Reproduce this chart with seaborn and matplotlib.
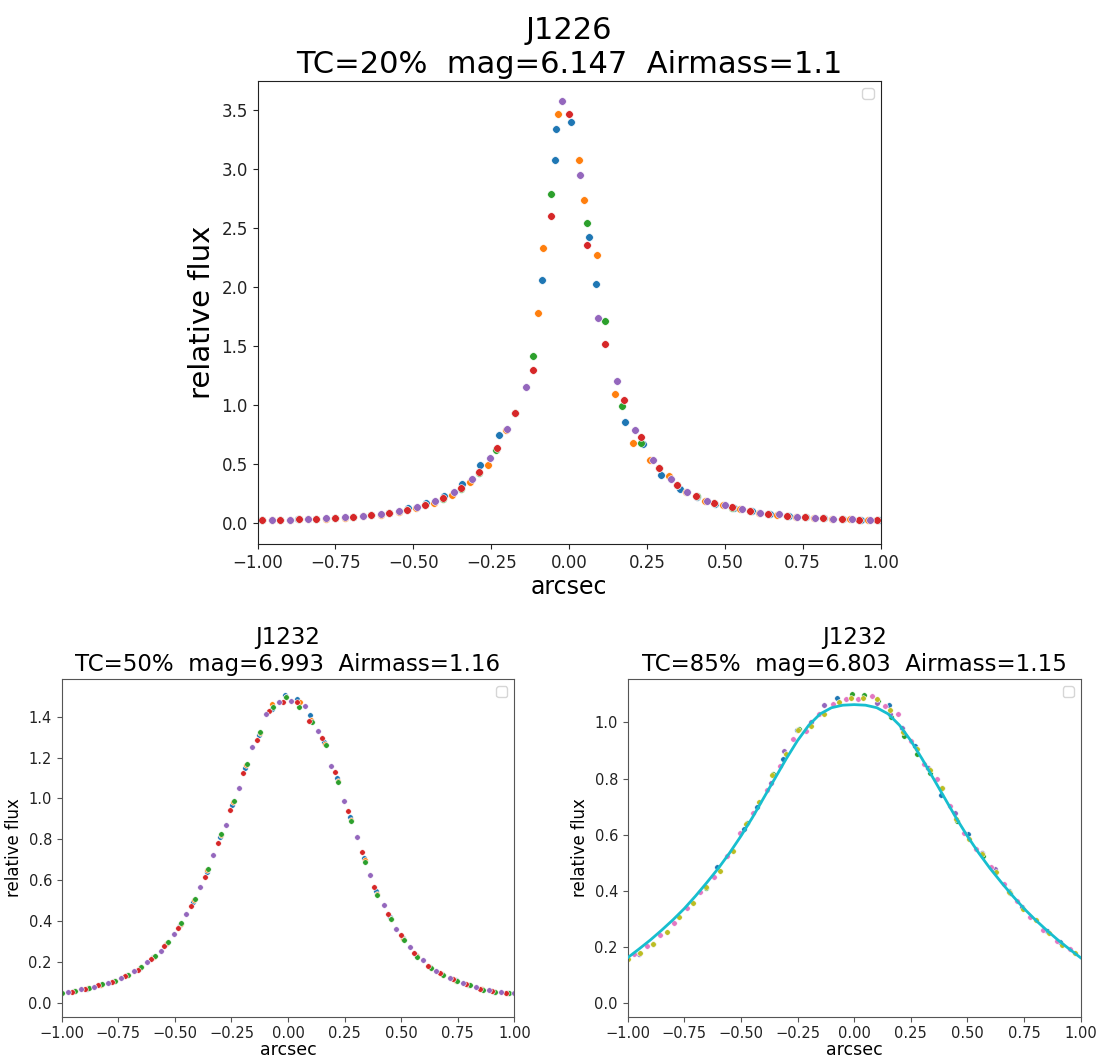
import matplotlib
matplotlib.use("Agg")
import matplotlib.pyplot as plt
from matplotlib.ticker import MultipleLocator
import seaborn as sns

# ---------------- top panel: J1226, TC=20% ----------------
top_blue_x = [-0.986, -0.927, -0.869, -0.811, -0.752, -0.695, -0.637, -0.579, -0.517, -0.46, -0.40, -0.342,
              -0.285, -0.226, -0.087, -0.044, -0.042, 0.006, 0.064, 0.087, 0.181, 0.239, 0.296, 0.355,
              0.41, 0.47, 0.53, 0.588, 0.646, 0.705, 0.762, 0.82, 0.88, 0.937, 0.994]
top_blue_y = [0.022, 0.024, 0.03, 0.036, 0.04, 0.05, 0.066, 0.085, 0.125, 0.167, 0.23, 0.33,
              0.49, 0.75, 2.06, 3.08, 3.34, 3.40, 2.42, 2.03, 0.86, 0.67, 0.41, 0.29,
              0.22, 0.165, 0.13, 0.098, 0.077, 0.06, 0.047, 0.04, 0.03, 0.025, 0.024]
top_orange_x = [-0.954, -0.897, -0.838, -0.779, -0.72, -0.661, -0.605, -0.547, -0.49, -0.433, -0.376, -0.318,
                -0.26, -0.203, -0.10, -0.085, -0.036, 0.031, 0.049, 0.089, 0.147, 0.205, 0.26, 0.32,
                0.375, 0.437, 0.495, 0.55, 0.61, 0.668, 0.727, 0.786, 0.843, 0.902, 0.96]
top_orange_y = [0.022, 0.027, 0.03, 0.038, 0.046, 0.058, 0.072, 0.093, 0.13, 0.17, 0.237, 0.35,
                0.49, 0.79, 1.78, 2.33, 3.47, 3.08, 2.74, 2.27, 1.09, 0.68, 0.53, 0.40,
                0.265, 0.19, 0.15, 0.117, 0.088, 0.072, 0.054, 0.045, 0.037, 0.03, 0.025]
top_green_x = [-0.986, -0.927, -0.868, -0.811, -0.752, -0.695, -0.637, -0.579, -0.521, -0.463, -0.406, -0.348,
               -0.29, -0.234, -0.174, -0.116, -0.059, 0.057, 0.115, 0.171, 0.232, 0.289, 0.348, 0.41,
               0.466, 0.524, 0.582, 0.64, 0.70, 0.757, 0.816, 0.875, 0.932, 0.989]
top_green_y = [0.022, 0.025, 0.03, 0.036, 0.041, 0.051, 0.066, 0.085, 0.108, 0.15, 0.205, 0.285,
               0.42, 0.62, 0.93, 1.415, 2.79, 2.54, 1.71, 0.99, 0.68, 0.465, 0.32, 0.225,
               0.168, 0.13, 0.098, 0.077, 0.06, 0.047, 0.04, 0.03, 0.025, 0.024]
top_red_x = [-0.986, -0.927, -0.868, -0.811, -0.752, -0.695, -0.637, -0.579, -0.521, -0.463, -0.406, -0.348,
             -0.29, -0.232, -0.174, -0.115, -0.058, 0.0, 0.059, 0.117, 0.175, 0.232, 0.289, 0.348,
             0.406, 0.466, 0.524, 0.582, 0.64, 0.70, 0.757, 0.816, 0.875, 0.932, 0.989]
top_red_y = [0.023, 0.025, 0.031, 0.037, 0.040, 0.050, 0.068, 0.087, 0.11, 0.153, 0.212, 0.297,
             0.43, 0.64, 0.93, 1.30, 2.60, 3.47, 2.36, 1.52, 1.04, 0.73, 0.47, 0.325,
             0.226, 0.17, 0.135, 0.10, 0.079, 0.062, 0.048, 0.042, 0.031, 0.025, 0.025]
top_purple_x = [-0.954, -0.897, -0.838, -0.779, -0.72, -0.661, -0.605, -0.547, -0.488, -0.429, -0.37, -0.312,
                -0.254, -0.198, -0.139, -0.022, 0.036, 0.093, 0.153, 0.211, 0.269, 0.327, 0.38, 0.443,
                0.5, 0.555, 0.614, 0.673, 0.732, 0.791, 0.848, 0.907, 0.965]
top_purple_y = [0.023, 0.028, 0.031, 0.04, 0.048, 0.062, 0.076, 0.099, 0.136, 0.186, 0.265, 0.375,
                0.55, 0.80, 1.155, 3.58, 2.95, 1.74, 1.20, 0.79, 0.53, 0.37, 0.26, 0.19,
                0.15, 0.116, 0.087, 0.073, 0.054, 0.045, 0.037, 0.031, 0.025]

# ---------------- bottom left: J1232, TC=50% ----------------
bl_blue_x = [-0.946, -0.887, -0.829, -0.770, -0.712, -0.655, -0.596, -0.537, -0.478, -0.419, -0.360, -0.301,
             -0.246, -0.188, -0.129, -0.073, -0.015, 0.041, 0.099, 0.160, 0.216, 0.273, 0.334, 0.388,
             0.450, 0.506, 0.566, 0.627, 0.679, 0.740, 0.796, 0.855, 0.909, 0.970]
bl_blue_y = [0.057, 0.070, 0.088, 0.106, 0.134, 0.170, 0.222, 0.290, 0.380, 0.495, 0.640, 0.810,
             0.970, 1.150, 1.310, 1.440, 1.508, 1.487, 1.407, 1.275, 1.10, 0.91, 0.71, 0.545,
             0.42, 0.318, 0.233, 0.175, 0.140, 0.111, 0.087, 0.067, 0.054, 0.047]
bl_orange_x = [-0.942, -0.883, -0.825, -0.766, -0.708, -0.651, -0.592, -0.533, -0.474, -0.415, -0.356, -0.297,
               -0.242, -0.184, -0.125, -0.070, -0.011, 0.051, 0.103, 0.164, 0.220, 0.277, 0.338, 0.392,
               0.454, 0.510, 0.570, 0.631, 0.683, 0.744, 0.800, 0.859, 0.913, 0.974]
bl_orange_y = [0.058, 0.071, 0.089, 0.108, 0.136, 0.173, 0.226, 0.295, 0.387, 0.504, 0.651, 0.822,
               0.982, 1.162, 1.32, 1.463, 1.496, 1.47, 1.383, 1.265, 1.087, 0.897, 0.697, 0.535,
               0.412, 0.312, 0.228, 0.172, 0.138, 0.109, 0.086, 0.066, 0.053, 0.047]
bl_green_x = [-0.998, -0.940, -0.881, -0.823, -0.764, -0.706, -0.649, -0.590, -0.531, -0.472, -0.413, -0.354,
              -0.295, -0.240, -0.182, -0.123, -0.067, -0.011, 0.047, 0.105, 0.166, 0.222, 0.279, 0.340,
              0.394, 0.456, 0.512, 0.572, 0.633, 0.685, 0.746, 0.802, 0.861, 0.915, 0.976]
bl_green_y = [0.049, 0.058, 0.072, 0.090, 0.108, 0.137, 0.175, 0.228, 0.298, 0.39, 0.508, 0.656,
              0.827, 0.988, 1.167, 1.325, 1.45, 1.498, 1.449, 1.372, 1.26, 1.08, 0.89, 0.69,
              0.53, 0.409, 0.308, 0.226, 0.17, 0.137, 0.108, 0.085, 0.065, 0.053, 0.046]
bl_red_x = [-0.955, -0.896, -0.838, -0.779, -0.721, -0.664, -0.605, -0.546, -0.487, -0.428, -0.369, -0.310,
            -0.255, -0.197, -0.138, -0.082, -0.021, 0.038, 0.092, 0.151, 0.207, 0.264, 0.325, 0.379,
            0.441, 0.497, 0.557, 0.618, 0.670, 0.731, 0.787, 0.846, 0.900, 0.961]
bl_red_y = [0.055, 0.068, 0.085, 0.102, 0.129, 0.163, 0.213, 0.278, 0.364, 0.475, 0.616, 0.784,
            0.943, 1.124, 1.288, 1.426, 1.472, 1.47, 1.38, 1.298, 1.129, 0.94, 0.739, 0.567,
            0.437, 0.332, 0.244, 0.182, 0.145, 0.115, 0.09, 0.070, 0.056, 0.048]
bl_purple_x = [-0.971, -0.914, -0.856, -0.796, -0.739, -0.679, -0.622, -0.563, -0.505, -0.449, -0.390, -0.332,
               -0.273, -0.216, -0.158, -0.099, -0.042, 0.014, 0.073, 0.133, 0.189, 0.248, 0.306, 0.363,
               0.422, 0.479, 0.538, 0.597, 0.655, 0.714, 0.771, 0.830, 0.887, 0.943, 0.998]
bl_purple_y = [0.052, 0.066, 0.078, 0.098, 0.121, 0.154, 0.198, 0.256, 0.336, 0.437, 0.568, 0.723,
               0.871, 1.052, 1.25, 1.415, 1.472, 1.475, 1.452, 1.331, 1.16, 0.987, 0.811, 0.625,
               0.48, 0.362, 0.274, 0.209, 0.158, 0.124, 0.095, 0.077, 0.062, 0.052, 0.046]

# ---------------- bottom right: J1232, TC=85% ----------------
br_blue_x = [-0.949, -0.89, -0.604, -0.487, -0.428, -0.313, -0.254, -0.077, 0.154, 0.21, 0.268, 0.327,
             0.383, 0.501, 0.563, 0.684, 0.853, 0.911]
br_blue_y = [0.175, 0.211, 0.484, 0.619, 0.697, 0.868, 0.972, 1.088, 1.063, 0.979, 0.916, 0.836,
             0.741, 0.602, 0.534, 0.40, 0.257, 0.219]
br_green_x = [-0.653, -0.475, -0.359, -0.244, -0.011, 0.043, 0.104, 0.162, 0.219, 0.277, 0.335, 0.453,
              0.569, 0.687]
br_green_y = [0.411, 0.64, 0.815, 0.975, 1.101, 1.098, 1.075, 1.018, 0.952, 0.886, 0.818, 0.65,
              0.525, 0.392]
br_purple_x = [-0.949, -0.366, -0.311, -0.191, -0.133, 0.099, 0.158, 0.21, 0.327, 0.39, 0.445, 0.563,
               0.622, 0.741]
br_purple_y = [0.175, 0.783, 0.898, 1.0, 1.06, 1.07, 1.03, 0.979, 0.836, 0.765, 0.676, 0.534,
               0.477, 0.342]
br_pink_x = [-0.972, -0.916, -0.858, -0.794, -0.737, -0.681, -0.62, -0.563, -0.504, -0.445, -0.386, -0.328,
             -0.272, -0.213, -0.155, -0.095, -0.036, 0.018, 0.077, 0.136, 0.195, 0.25, 0.309, 0.364,
             0.423, 0.485, 0.54, 0.603, 0.662, 0.721, 0.777, 0.836, 0.894, 0.951]
br_pink_y = [0.177, 0.203, 0.243, 0.287, 0.34, 0.396, 0.448, 0.524, 0.607, 0.678, 0.759, 0.846,
             0.94, 0.969, 1.03, 1.064, 1.083, 1.082, 1.095, 1.059, 1.03, 0.934, 0.85, 0.80,
             0.702, 0.607, 0.548, 0.486, 0.423, 0.364, 0.308, 0.261, 0.223, 0.192]
br_olive_x = [-0.997, -0.945, -0.89, -0.828, -0.772, -0.713, -0.656, -0.592, -0.536, -0.478, -0.419, -0.362,
              -0.302, -0.247, -0.191, -0.132, -0.066, -0.014, 0.04, 0.099, 0.158, 0.217, 0.276, 0.335,
              0.39, 0.45, 0.508, 0.566, 0.628, 0.684, 0.744, 0.802, 0.86, 0.917, 0.977]
br_olive_y = [0.157, 0.18, 0.211, 0.254, 0.308, 0.356, 0.413, 0.472, 0.542, 0.637, 0.717, 0.812,
              0.887, 0.973, 0.987, 1.03, 1.071, 1.085, 1.085, 1.082, 1.044, 0.964, 0.904, 0.83,
              0.765, 0.656, 0.584, 0.53, 0.466, 0.397, 0.335, 0.296, 0.249, 0.207, 0.178]
# fitted profile (cyan line)
fit_x = [-1.0, -0.95, -0.9, -0.85, -0.8, -0.75, -0.7, -0.65, -0.6, -0.55, -0.5, -0.45, -0.4, -0.35,
         -0.3, -0.25, -0.2, -0.15, -0.1, -0.05, 0.0, 0.05, 0.1, 0.15, 0.2, 0.25, 0.3, 0.35, 0.4,
         0.45, 0.5, 0.55, 0.6, 0.65, 0.7, 0.75, 0.8, 0.85, 0.9, 0.95, 1.0]
fit_y = [0.162, 0.193, 0.225, 0.260, 0.297, 0.337, 0.382, 0.43, 0.48, 0.535, 0.595, 0.66, 0.73, 0.80,
         0.87, 0.935, 0.99, 1.03, 1.052, 1.061, 1.063, 1.061, 1.052, 1.03, 0.99, 0.935, 0.87, 0.80, 0.73,
         0.66, 0.595, 0.535, 0.48, 0.43, 0.382, 0.337, 0.297, 0.260, 0.225, 0.193, 0.162]

C = {"blue": "#1f77b4", "orange": "#ff7f0e", "green": "#2ca02c", "red": "#d62728",
     "purple": "#9467bd", "pink": "#e377c2", "olive": "#bcbd22", "cyan": "#17becf"}


def dots(ax, xs, ys, col, s):
    sns.scatterplot(x=xs, y=ys, color=C[col], s=s, edgecolor="white", linewidth=0.4,
                    ax=ax, legend=False, zorder=2)


def style(ax, title, tfs, lfs, ylfs, tickfs, ylim, ystep, xpad, spine):
    ax.set_xlim(-1, 1)
    ax.set_ylim(*ylim)
    ax.xaxis.set_major_locator(MultipleLocator(0.25))
    ax.yaxis.set_major_locator(MultipleLocator(ystep))
    ax.xaxis.set_major_formatter(plt.FuncFormatter(lambda v, p: f"{v:.2f}".replace("-", "\u2212")))
    ax.yaxis.set_major_formatter(plt.FuncFormatter(lambda v, p: f"{v:.1f}".replace("-", "\u2212")))
    ax.set_title(title, fontsize=tfs)
    ax.set_xlabel("arcsec", fontsize=lfs, labelpad=xpad)
    ax.set_ylabel("relative flux", fontsize=ylfs)
    ax.tick_params(labelsize=tickfs, color=spine, labelcolor="#222222")
    for sp in ax.spines.values():
        sp.set_color(spine)
    ax.legend(handles=[], loc="upper right")


fig = plt.figure(figsize=(11, 10.58), dpi=100)

ax1 = fig.add_axes([0.2341, 0.4858, 0.5664, 0.4376])
dots(ax1, top_blue_x, top_blue_y, "blue", 30)
dots(ax1, top_orange_x, top_orange_y, "orange", 30)
dots(ax1, top_green_x, top_green_y, "green", 30)
dots(ax1, top_red_x, top_red_y, "red", 30)
dots(ax1, top_purple_x, top_purple_y, "purple", 30)
style(ax1, "J1226\nTC=20%  mag=6.147  Airmass=1.1", 22, 17, 21, 12, (-0.178, 3.746), 0.5, 2, "#222222")

ax2 = fig.add_axes([0.0561, 0.0390, 0.4115, 0.3189])
dots(ax2, bl_blue_x, bl_blue_y, "blue", 16)
dots(ax2, bl_orange_x, bl_orange_y, "orange", 16)
dots(ax2, bl_green_x, bl_green_y, "green", 16)
dots(ax2, bl_red_x, bl_red_y, "red", 16)
dots(ax2, bl_purple_x, bl_purple_y, "purple", 16)
style(ax2, "J1232\nTC=50%  mag=6.993  Airmass=1.16", 16.5, 12.5, 12, 10.5, (-0.068, 1.583), 0.2, 0, "#555555")

ax3 = fig.add_axes([0.5706, 0.0390, 0.4118, 0.3189])
dots(ax3, br_blue_x, br_blue_y, "blue", 16)
dots(ax3, br_green_x, br_green_y, "green", 16)
dots(ax3, br_purple_x, br_purple_y, "purple", 16)
dots(ax3, br_pink_x, br_pink_y, "pink", 16)
dots(ax3, br_olive_x, br_olive_y, "olive", 16)
sns.lineplot(x=fit_x, y=fit_y, color=C["cyan"], linewidth=2, ax=ax3, zorder=3)
style(ax3, "J1232\nTC=85%  mag=6.803  Airmass=1.15", 16.5, 12.5, 12, 10.5, (-0.048, 1.153), 0.2, 0, "#555555")

fig.savefig("out.png", dpi=100)
